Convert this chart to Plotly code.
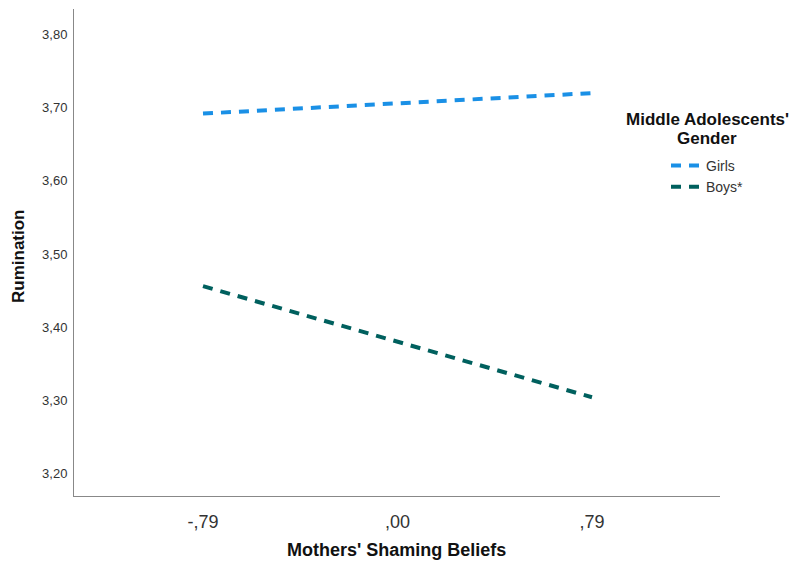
import plotly.graph_objects as go

x_vals = [-0.79, 0.79]
x_ticklabels = ["-,79", ",00", ",79"]
x_tickvals = [-0.79, 0.0, 0.79]
girls = [3.692, 3.720]
boys = [3.456, 3.304]
y_tickvals = [3.2, 3.3, 3.4, 3.5, 3.6, 3.7, 3.8]
y_ticklabels = ["3,20", "3,30", "3,40", "3,50", "3,60", "3,70", "3,80"]

OFF = 8  # default page body margin
W, H = 798 - OFF, 562 - OFF
L, T = 74 - OFF, 9 - OFF
R, B = W - (720 - OFF), H - (496 - OFF)
PW, PH = W - L - R, H - T - B

def px(x):
    return (x - OFF - L) / PW

def py(y):
    return 1 - (y - OFF - T) / PH

fig = go.Figure()
fig.add_trace(go.Scatter(x=x_vals, y=girls, mode="lines", name="Girls",
                         line=dict(color="#1a90e6", width=4, dash="10px,8px")))
fig.add_trace(go.Scatter(x=x_vals, y=boys, mode="lines", name="Boys*",
                         line=dict(color="#00605e", width=4, dash="10px,8px")))

fig.update_layout(
    width=W, height=H,
    margin=dict(l=L, r=R, t=T, b=B, autoexpand=False),
    paper_bgcolor="white", plot_bgcolor="white",
    font=dict(family="Liberation Sans, Arial, sans-serif", color="#222"),
    xaxis=dict(range=[-1.314, 1.31], tickvals=x_tickvals, ticktext=x_ticklabels,
               showgrid=False, zeroline=False, showline=True, linecolor="#888", linewidth=1,
               ticks="", ticklabelstandoff=9, tickfont=dict(size=18, color="#333"),
               automargin=False),
    yaxis=dict(range=[3.169, 3.835], tickvals=y_tickvals, ticktext=y_ticklabels,
               showgrid=False, zeroline=False, showline=True, linecolor="#888", linewidth=1,
               ticks="", ticklabelstandoff=3, tickfont=dict(size=13, color="#333"),
               automargin=False),
    showlegend=True,
    legend=dict(x=px(666), xanchor="left", y=py(150), yanchor="top",
                font=dict(size=14, color="#333"), bgcolor="rgba(0,0,0,0)", tracegroupgap=0),
    annotations=[
        dict(text="<b>Middle Adolescents'</b>", xref="paper", yref="paper",
             x=px(707), y=py(119), xanchor="center", yanchor="middle",
             showarrow=False, font=dict(size=17, color="#111")),
        dict(text="<b>Gender</b>", xref="paper", yref="paper",
             x=px(707), y=py(138), xanchor="center", yanchor="middle",
             showarrow=False, font=dict(size=17, color="#111")),
        dict(text="<b>Mothers' Shaming Beliefs</b>", xref="paper", yref="paper",
             x=px(396), y=py(550), xanchor="center", yanchor="middle",
             showarrow=False, font=dict(size=18, color="#111")),
        dict(text="<b>Rumination</b>", xref="paper", yref="paper",
             x=px(18), y=py(256), xanchor="center", yanchor="middle", textangle=-90,
             showarrow=False, font=dict(size=17, color="#111")),
    ],
)

fig.write_html("out.html")
